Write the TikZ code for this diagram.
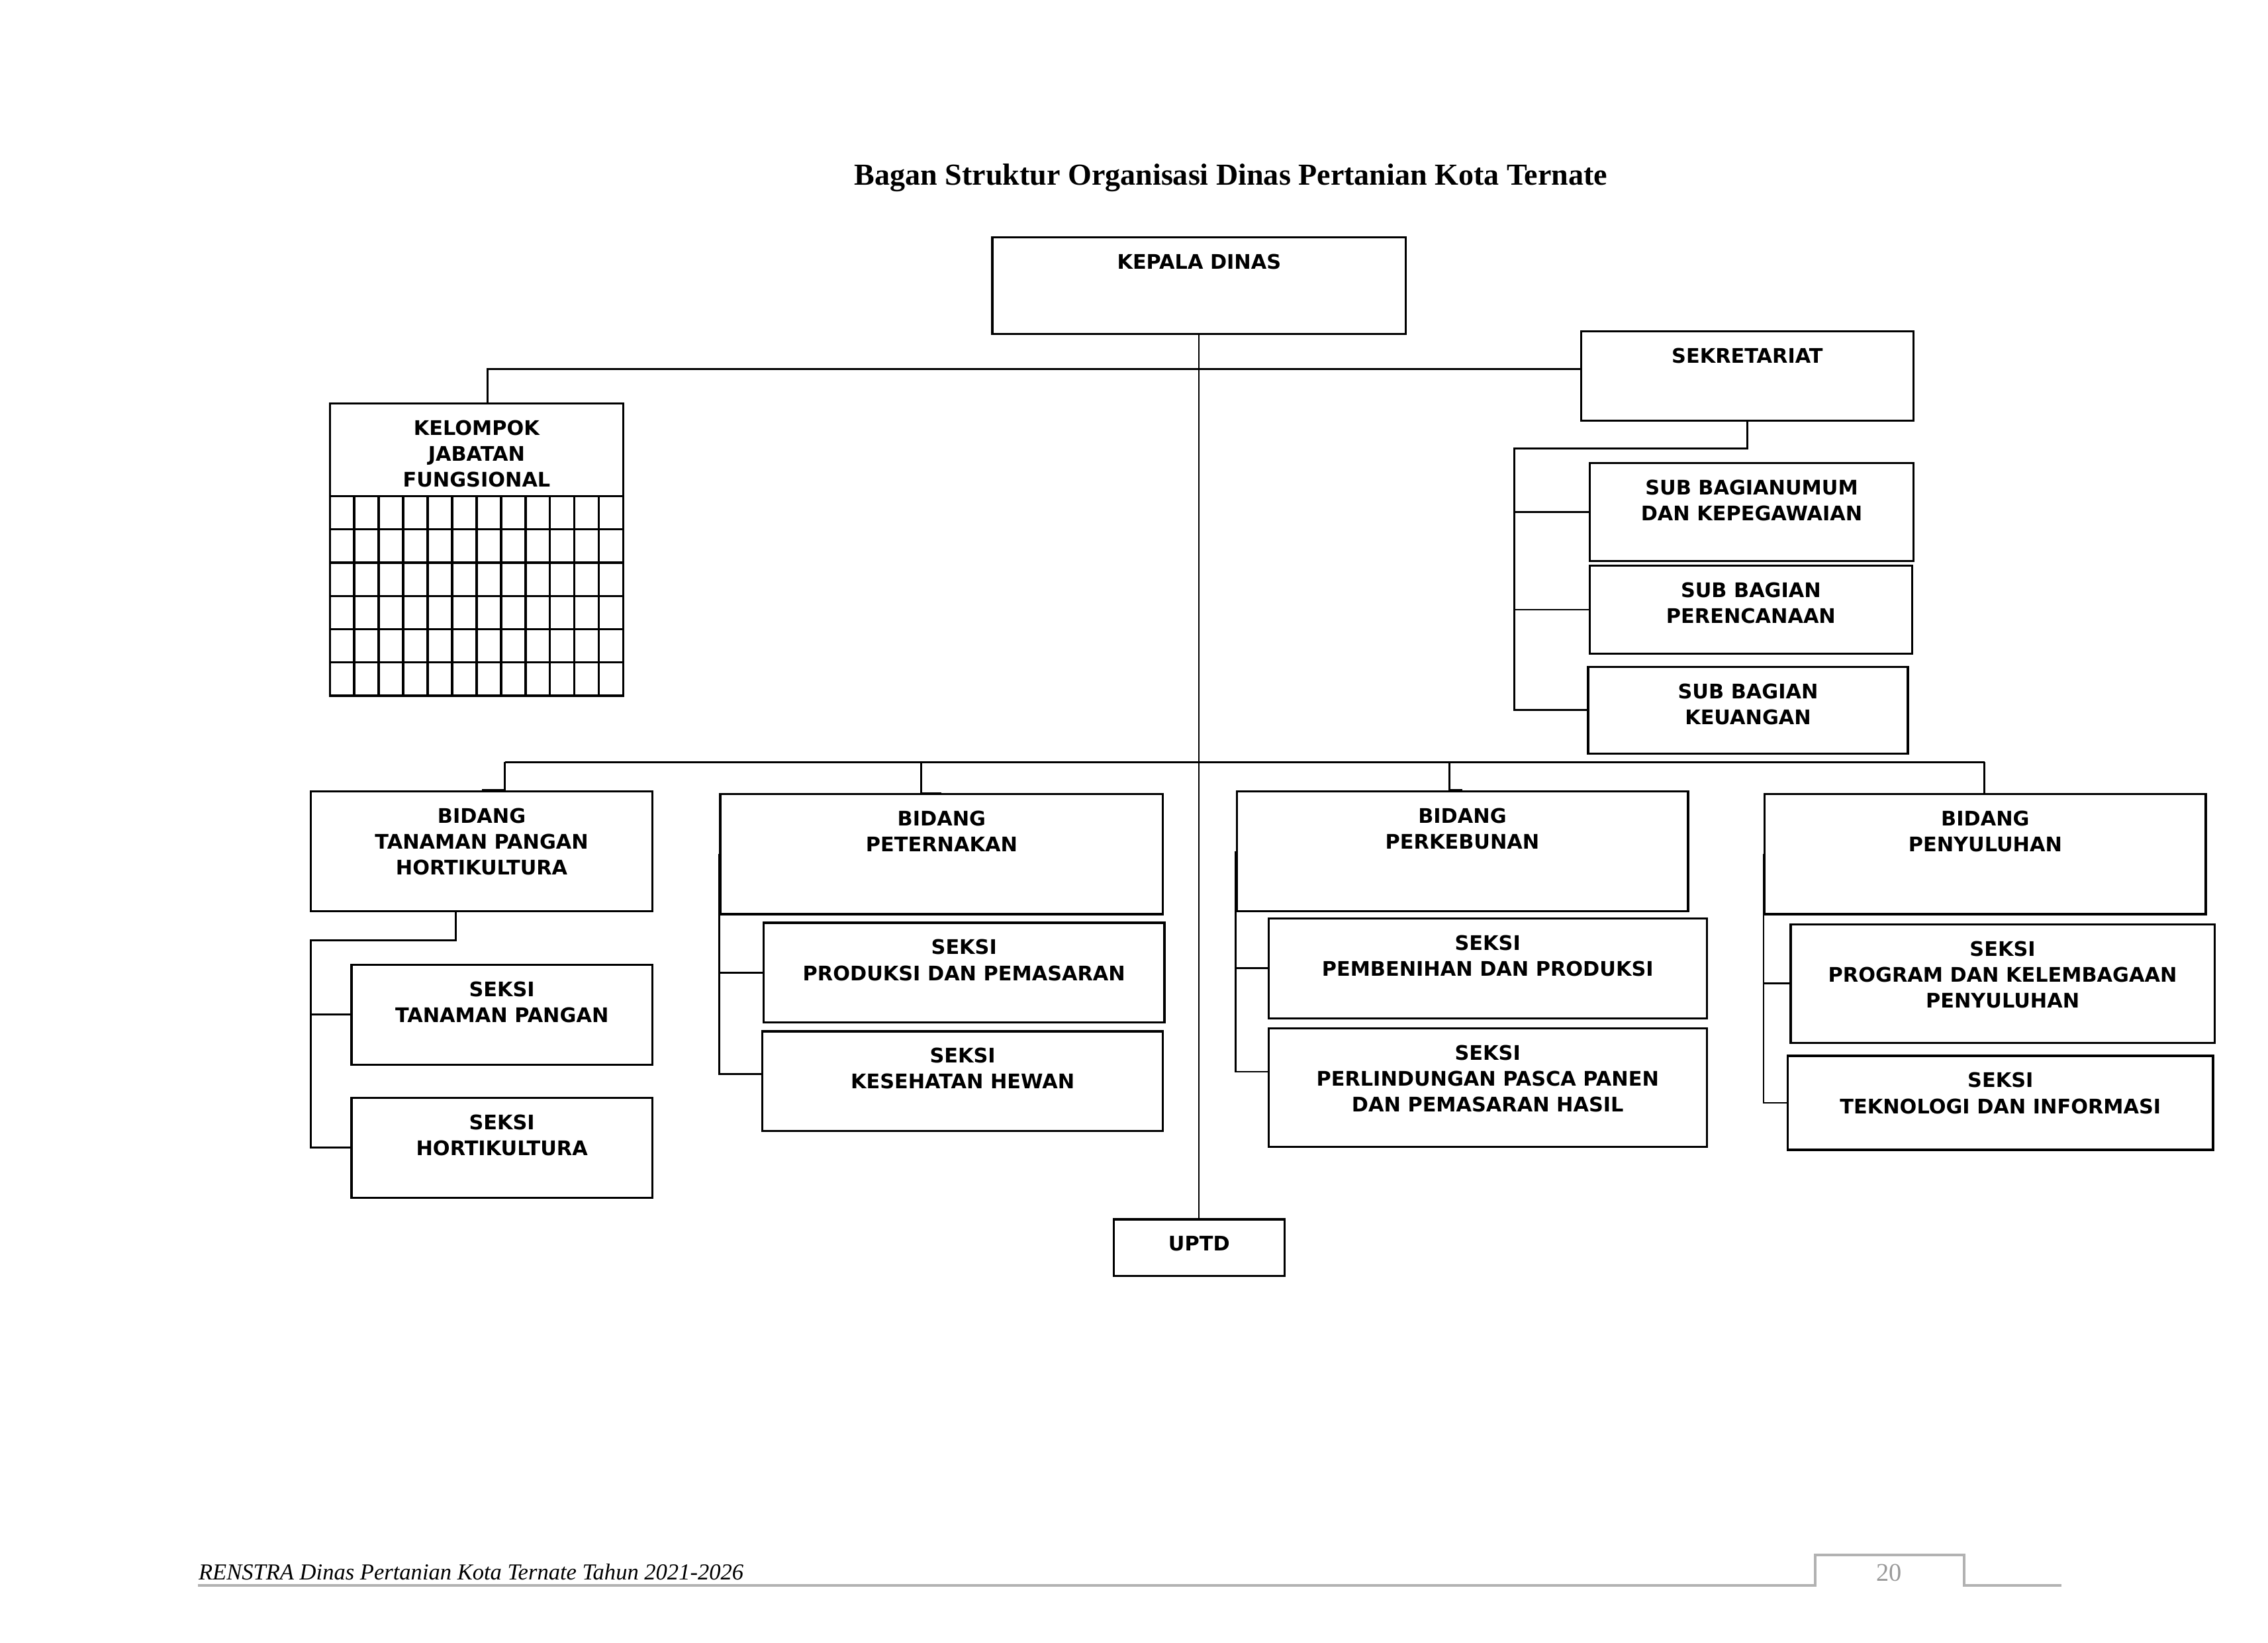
\documentclass[tikz,border=0pt]{standalone}
\usepackage{fontspec}
\setmainfont{Liberation Serif}
\setsansfont{DejaVu Sans}
\usetikzlibrary{calc,fit}

\tikzset{
  unit/.style={draw, line width=0.3mm, inner sep=0pt},
  unittext/.style={anchor=north, inner sep=0pt, align=center,
    font=\sffamily\bfseries\fontsize{7.9}{10.2}\selectfont},
  link/.style={line width=0.25mm},
}

\begin{document}
\begin{tikzpicture}[x=0.2mm,y=-0.2mm]
  \useasboundingbox (0,0) rectangle (1568,1135.5);

  %% Title
  \node[anchor=base, inner sep=0pt, font=\bfseries\fontsize{12}{14}\selectfont] (TITLE) at (851,128)
    {Bagan Struktur Organisasi Dinas Pertanian Kota Ternate};

  %% Units: name/left/top/right/bottom/text
  \foreach \n/\xa/\ya/\xb/\yb/\txt in {
    KD/686/164/972/231/{KEPALA DINAS},
    SEK/1093/229/1323/291/{SEKRETARIAT},
    KJF/228/279/431/481/{KELOMPOK\\JABATAN\\FUNGSIONAL},
    SBU/1099/320/1323/388/{SUB BAGIANUMUM\\DAN KEPEGAWAIAN},
    SBP/1099/391/1322/452/{SUB BAGIAN\\PERENCANAAN},
    SBK/1098/461/1319/521/{SUB BAGIAN\\KEUANGAN},
    BTP/215/547/451/630/{BIDANG\\TANAMAN PANGAN\\HORTIKULTURA},
    STP/243/667/451/736/{SEKSI\\TANAMAN PANGAN},
    SH/243/759/451/828/{SEKSI\\HORTIKULTURA},
    BPT/498/549/804/632/{BIDANG\\PETERNAKAN},
    SPP/528/638/805/707/{SEKSI\\PRODUKSI DAN PEMASARAN},
    SKH/527/713/804/782/{SEKSI\\KESEHATAN HEWAN},
    BPK/855/547/1167/630/{BIDANG\\PERKEBUNAN},
    SPB/877/635/1180/704/{SEKSI\\PEMBENIHAN DAN PRODUKSI},
    SPL/877/711/1180/793/{SEKSI\\PERLINDUNGAN PASCA PANEN\\DAN PEMASARAN HASIL},
    BPY/1220/549/1525/632/{BIDANG\\PENYULUHAN},
    SPK/1238/639/1531/721/{SEKSI\\PROGRAM DAN KELEMBAGAAN\\PENYULUHAN},
    STI/1236/730/1530/795/{SEKSI\\TEKNOLOGI DAN INFORMASI},
    UPTD/770/843/888/882/{UPTD}}
  {
    \node[unit, fit={(\xa,\ya) (\xb,\yb)}] (\n) {};
    \node[unittext] (\n-t) at ($(\n.north)+(0,12)$) {\txt};
  }

  %% Grid of the functional group
  \foreach \i in {1,...,11}
    \draw[unit] ({228+\i*203/12},343) -- ({228+\i*203/12},481);
  \foreach \j in {0,...,5}
    \draw[unit] (228,{343+\j*23}) -- (431,{343+\j*23});

  %% Kepala Dinas down to UPTD
  \draw[link, line width=0.2mm] (KD.south) -- (UPTD.north);

  %% Staff line
  \coordinate (staff) at (337,255);
  \draw[link] (staff |- KJF.north) -- (staff) -- (staff -| SEK.west);

  %% Sekretariat tree
  \coordinate (sekbus) at (1047,310);
  \draw[link] (SEK.south) |- (sekbus) |- (SBK.west);
  \foreach \s in {SBU,SBP}
    \draw[link] (sekbus |- \s.west) -- (\s.west);

  %% Bidang line
  \coordinate (bleft) at (349,527);
  \coordinate (bright) at (1372,527);
  \draw[link] (bleft) -- (bright);
  \foreach \n/\x in {BTP/349,BPT/637,BPK/1002,BPY/1372}
    \draw[link] (\x,527) |- (\n.north);

  %% Tanaman pangan tree
  \coordinate (tpbus) at (215,650);
  \draw[link] ($(BTP.south)+(-18,0)$) |- (tpbus) |- (SH.west);
  \draw[link] (tpbus |- STP.west) -- (STP.west);

  %% Peternakan tree
  \draw[link] (BPT.west) |- ($(SKH.west)+(0,-5)$);
  \draw[link] (BPT.west |- SPP.west) -- (SPP.west);

  %% Perkebunan tree
  \draw[link] (BPK.west) |- ($(SPL.west)+(0,-11)$);
  \draw[link] (BPK.west |- SPB.west) -- (SPB.west);

  %% Penyuluhan tree
  \draw[link] (BPY.west) |- (STI.west);
  \draw[link] (BPY.west |- SPK.west) -- (SPK.west);

  %% Footer
  \node[anchor=base west, inner sep=0pt, font=\itshape\fontsize{9}{11}\selectfont] (FOOT) at (137,1092)
    {RENSTRA Dinas Pertanian Kota Ternate Tahun 2021-2026};
  \node[anchor=base, inner sep=0pt, text=gray!80, font=\fontsize{10}{12}\selectfont] (PAGE) at (1306,1093) {20};
  \draw[gray!60, line width=0.4mm] (137,1096) -- (1255,1096) |- (1358,1075) -- (1358,1096) -- (1425,1096);
\end{tikzpicture}
\end{document}
